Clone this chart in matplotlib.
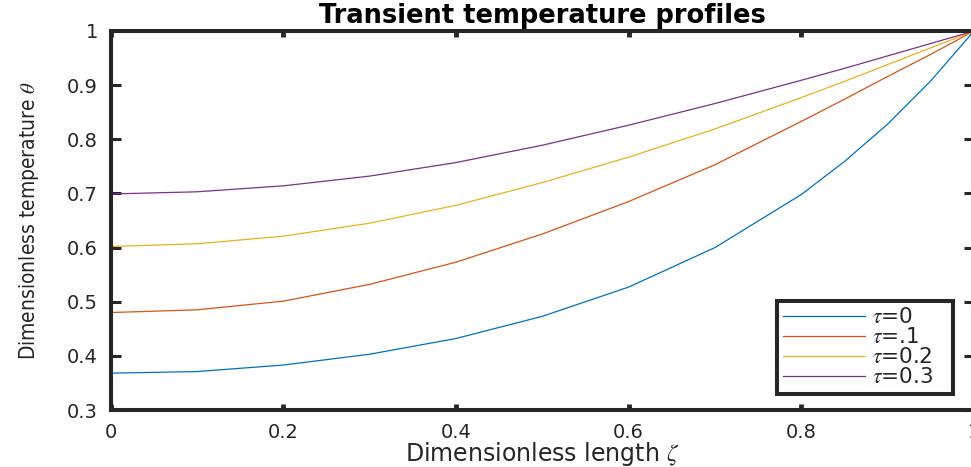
import numpy as np
import matplotlib
matplotlib.use("Agg")
import matplotlib.pyplot as plt
from matplotlib import font_manager

# values
zeta = [0.0, 0.1, 0.2, 0.3, 0.4, 0.5, 0.6, 0.7, 0.8, 0.85, 0.9, 0.95, 1.0]
theta_t0 = [0.368, 0.371, 0.383, 0.403, 0.432, 0.473, 0.527, 0.600, 0.698, 0.759, 0.828, 0.908, 1.0]
theta_t1 = [0.480, 0.485, 0.501, 0.532, 0.573, 0.625, 0.685, 0.753, 0.833, 0.874, 0.916, 0.957, 1.0]
theta_t2 = [0.602, 0.607, 0.621, 0.645, 0.678, 0.720, 0.767, 0.819, 0.877, 0.907, 0.938, 0.969, 1.0]
theta_t3 = [0.699, 0.703, 0.714, 0.732, 0.757, 0.789, 0.826, 0.866, 0.909, 0.931, 0.954, 0.977, 1.0]
labels = [r'$\tau$=0', r'$\tau$=.1', r'$\tau$=0.2', r'$\tau$=0.3']
colors = ['#0072BD', '#D95319', '#EDB120', '#7E2F8E']

xticks = [0, 0.2, 0.4, 0.6, 0.8, 1]
xticklabels = ['0', '0.2', '0.4', '0.6', '0.8', '1']
yticks = [0.3, 0.4, 0.5, 0.6, 0.7, 0.8, 0.9, 1]
yticklabels = ['0.3', '0.4', '0.5', '0.6', '0.7', '0.8', '0.9', '1']

dark = '#262626'
plt.rcParams['mathtext.fontset'] = 'stix'
plt.rcParams['font.family'] = ['DejaVu Sans']

# a condensed face for the y label if one is around
fonts = font_manager.fontManager.ttflist
if any(f.name == 'Liberation Sans Narrow' for f in fonts):
    ylab_kw = dict(family='Liberation Sans Narrow', fontsize=19)
elif any(f.name == 'DejaVu Sans' and f.stretch == 'condensed' for f in fonts):
    ylab_kw = dict(family='DejaVu Sans', fontstretch='condensed', fontsize=15)
else:
    ylab_kw = dict(family='DejaVu Sans', fontsize=12.5)

fig = plt.figure(figsize=(9.71, 4.67), dpi=100)
ax = fig.add_axes([110.5 / 971, 57 / 467, 863.5 / 971, 379 / 467])

for y, c, lab in zip([theta_t0, theta_t1, theta_t2, theta_t3], colors, labels):
    ax.plot(zeta, y, color=c, lw=0.9, label=lab)

ax.set_xlim(0, 1)
ax.set_ylim(0.3, 1)
ax.set_xticks(xticks)
ax.set_xticklabels(xticklabels)
ax.set_yticks(yticks)
ax.set_yticklabels(yticklabels)

for s in ax.spines.values():
    s.set_linewidth(2.9)
    s.set_color(dark)
ax.tick_params(axis='both', direction='in', colors=dark, labelsize=14, top=True, right=True)
ax.tick_params(axis='x', length=4, width=3.5, pad=9)
ax.tick_params(axis='y', length=7, width=2.2, pad=9)

ax.set_title('Transient temperature profiles', fontsize=18.5, fontweight='bold', pad=6)
ax.set_xlabel(r'Dimensionless length $\zeta$', fontsize=17, color=dark, labelpad=-1)
ax.set_ylabel(r'Dimensionless temperature $\theta$', color=dark, labelpad=19, **ylab_kw)

# legend box spans the same part of the axes as in the reference
leg = ax.legend(loc='upper left', bbox_to_anchor=(0.7718, 0.0449, 0.2038, 0.2427), mode='expand',
                borderaxespad=0, fontsize=15.5, handlelength=3.8, handletextpad=0.33,
                labelspacing=0.0, borderpad=0.3, fancybox=False, framealpha=1)
leg.get_frame().set_edgecolor(dark)
leg.get_frame().set_linewidth(2.9)
for t in leg.get_texts():
    t.set_color(dark)

fig.savefig('out.png', dpi=100)
